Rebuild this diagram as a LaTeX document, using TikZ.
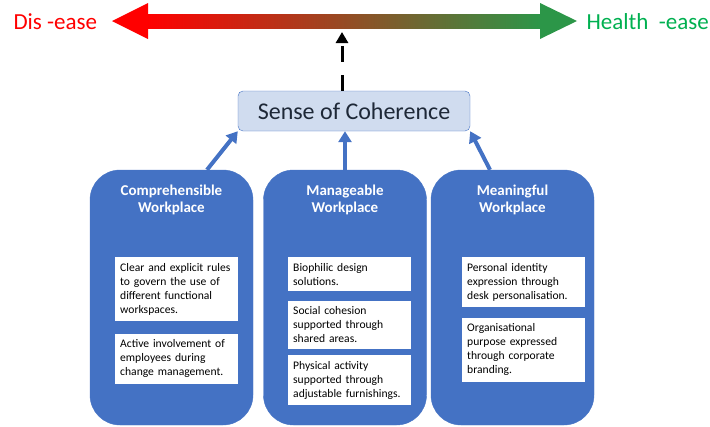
\documentclass[tikz,border=0pt]{standalone}
\usepackage{fontspec}
\setmainfont{Carlito}
\usetikzlibrary{positioning}
\usetikzlibrary{arrows.meta}

\definecolor{soblue}{RGB}{68,114,196}
\definecolor{solight}{RGB}{208,220,239}
\definecolor{sotext}{RGB}{30,40,55}
\definecolor{disred}{RGB}{255,0,0}
\definecolor{easegreen}{RGB}{0,176,80}
\definecolor{shaftgreen}{RGB}{44,150,72}

\begin{document}
\begin{tikzpicture}[x=1pt,y=-1pt,
  pillar/.style={fill=soblue,draw=soblue,rounded corners=30pt,
    minimum width=163pt,minimum height=255pt,inner sep=0pt},
  pillartitle/.style={text=white,align=center,
    font=\fontsize{15}{17}\selectfont\bfseries},
  item/.style={fill=white,anchor=north west,text width=113pt,
    inner xsep=5pt,inner ysep=6pt,align=left,
    font=\fontsize{11.6}{14}\selectfont},
  sense/.style={fill=solight,draw=soblue,rounded corners=5pt,
    minimum width=232pt,minimum height=40pt,text=sotext,
    font=\fontsize{24}{28}\selectfont},
  feed/.style={draw=soblue,line width=4pt,
    -{Triangle[length=11pt,width=13pt]}},
  cue/.style={draw=black,line width=3pt,dash pattern=on 16pt off 13pt,
    -{Triangle[length=11pt,width=12pt]}},
  ends/.style={font=\fontsize{23}{28}\selectfont}]
\useasboundingbox
  (0,0)
  rectangle
  (710,426);
% the dis-ease / health-ease scale
\shade[left color=disred,right color=shaftgreen]
  (147,14)
  rectangle
  (541,28);
\fill[disred]
  (112,21)
  -- (148,3)
  -- (148,39)
  -- cycle;
\fill[shaftgreen]
  (577,21)
  -- (540,3)
  -- (540,39)
  -- cycle;
\node[ends,text=disred,anchor=base west] (dis) at (10,29.5) {Dis -ease};
\node[ends,text=easegreen,anchor=base west] (health) at (583,29.5) {Health\ \ -ease};
\coordinate (balance) at (342,32);

\node[sense] (soc) at (354,111) {Sense of Coherence};

% the three pillars
\node[pillar] (comp) at (171.5,297.5) {};
\node[pillar] (manage) at (345,297.5) {};
\node[pillar] (mean) at (512.5,297.5) {};
\node[pillartitle] (comptitle) at ([yshift=-30.5]comp.north) {Comprehensible\\Workplace};
\node[pillartitle] (managetitle) at ([yshift=-30.5]manage.north) {Manageable\\Workplace};
\node[pillartitle] (meantitle) at ([yshift=-30.5]mean.north) {Meaningful\\Workplace};

\node[item] (c1) at (115,257) {Clear and explicit rules\\to govern the use of\\different functional\\workspaces.};
\node[item,below=12pt of c1] (c2) {Active involvement of\\employees during\\change management.};

\node[item] (m1) at (288,257) {Biophilic design\\solutions.};
\node[item,below=9pt of m1] (m2) {Social cohesion\\supported through\\shared areas.};
\node[item,below=6pt of m2] (m3) {Physical activity\\supported through\\adjustable furnishings.};

\node[item] (n1) at (462,257) {Personal identity\\expression through\\desk personalisation.};
\node[item,below=10pt of n1] (n2) {Organisational\\purpose expressed\\through corporate\\branding.};

% links
\draw[feed] ([xshift=35.5]comp.north) -- (soc.south west);
\draw[feed] (manage.north) -- (manage.north |- soc.south);
\draw[feed] ([xshift=-22.5]mean.north) -- (soc.south east);
\draw[cue] (balance |- soc.north) -- (balance);
\end{tikzpicture}
\end{document}
